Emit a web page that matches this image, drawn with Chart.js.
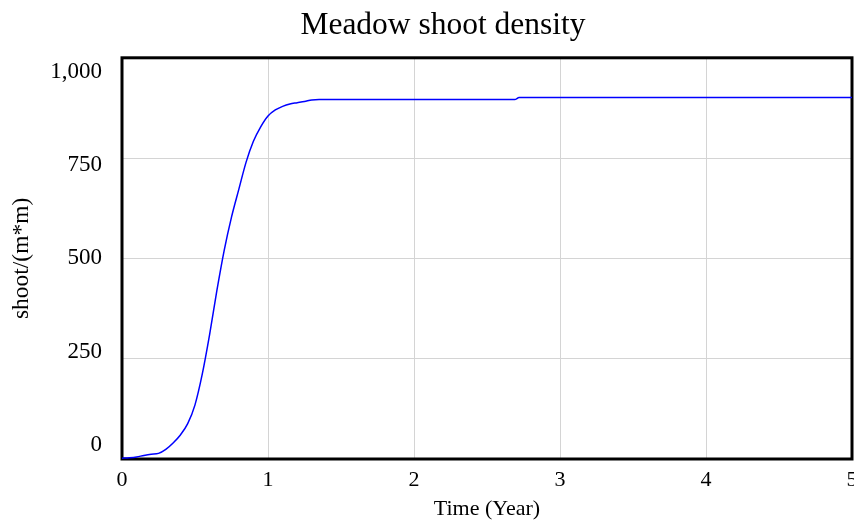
<!DOCTYPE html>
<html>
<head>
<meta charset="utf-8">
<title>Meadow shoot density</title>
<script src="https://cdn.jsdelivr.net/npm/chart.js@4/dist/chart.umd.min.js"></script>
<style>
  html, body { margin: 0; padding: 0; background: #fff; overflow: hidden; }
  #wrap { width: 886px; height: 520px; }
</style>
</head>
<body>
<div id="wrap"><canvas id="myChart"></canvas></div>
<script>
// simulation output (Time in years, shoots per m*m)
const years = [0, 0.05, 0.1, 0.15, 0.2, 0.25, 0.3, 0.35, 0.4, 0.45, 0.5, 0.55, 0.6, 0.65,
  0.7, 0.75, 0.8, 0.85, 0.9, 0.95, 1.0, 1.05, 1.1, 1.15, 1.2, 1.25, 1.3, 1.35, 2.69, 2.72, 5];
const shootDensity = [2, 3, 5, 9, 12, 14, 24, 40, 60, 88, 135, 212, 310, 420,
  520, 603, 672, 740, 792, 828, 855, 870, 879, 885, 888, 891, 895, 896, 896, 901, 901];

const xTicks = [0, 1, 2, 3, 4, 5];
const yTicks = [0, 250, 500, 750, 1000];

const serif = '"Liberation Serif", "Times New Roman", serif';
Chart.defaults.font.family = serif;
Chart.defaults.color = '#000';

const frame = {
  id: 'frame',
  afterLayout(chart) {
    // centre the title on the whole canvas, not on the padded width
    if (chart.titleBlock) {
      chart.titleBlock.left = 0;
      chart.titleBlock.right = chart.width;
    }
  },
  beforeDatasetsDraw(chart) {
    const { ctx, chartArea: a } = chart;
    ctx.save();
    ctx.lineWidth = 3;
    ctx.strokeStyle = '#000';
    ctx.strokeRect(a.left, a.top, a.right - a.left, a.bottom - a.top);
    ctx.restore();
  }
};

const points = years.map((t, i) => ({ x: t, y: shootDensity[i] }));

new Chart(document.getElementById('myChart'), {
  type: 'line',
  data: {
    datasets: [{
      label: 'shoot density',
      data: points,
      borderColor: '#0000ff',
      borderWidth: 1.5,
      pointRadius: 0,
      fill: false,
      cubicInterpolationMode: 'monotone'
    }]
  },
  options: {
    responsive: true,
    maintainAspectRatio: false,
    animation: false,
    layout: { padding: { left: 0, right: 34, top: 0, bottom: 0 } },
    plugins: {
      legend: { display: false },
      tooltip: { enabled: false },
      title: {
        display: true,
        text: 'Meadow shoot density',
        font: { size: 31.5, weight: 'normal', lineHeight: 1.2 },
        padding: { top: 7, bottom: 13 }
      }
    },
    scales: {
      x: {
        type: 'linear',
        min: 0,
        max: 5,
        afterBuildTicks: s => { s.ticks = xTicks.map(v => ({ value: v })); },
        afterFit: s => { s.height = 61; },
        ticks: { font: { size: 22, lineHeight: 1.2 }, padding: 8, maxRotation: 0 },
        grid: { color: '#d4d4d4', drawTicks: false },
        border: { display: false },
        title: {
          display: true,
          text: 'Time (Year)',
          font: { size: 22, lineHeight: 1 },
          padding: { top: 0, bottom: 0 }
        }
      },
      y: {
        position: 'left',
        weight: 0,
        min: 0,
        max: 1000,
        afterBuildTicks: s => { s.ticks = yTicks.map(v => ({ value: v })); },
        ticks: { display: false },
        grid: { color: '#d4d4d4', drawTicks: false },
        border: { display: false }
      },
      yl: {
        position: 'left',
        weight: 1,
        min: -37.33,
        max: 1037.33,
        afterBuildTicks: s => { s.ticks = yTicks.map(v => ({ value: v })); },
        afterFit: s => { s.width = 122; },
        ticks: {
          font: { size: 23, lineHeight: 1.2 },
          padding: 20,
          callback: v => v.toLocaleString('en-US')
        },
        grid: { display: false, drawTicks: false },
        border: { display: false },
        title: {
          display: true,
          text: 'shoot/(m*m)',
          font: { size: 23.5, lineHeight: 1 },
          padding: { top: 10, bottom: 0 }
        }
      }
    }
  },
  plugins: [frame]
});
</script>
</body>
</html>
